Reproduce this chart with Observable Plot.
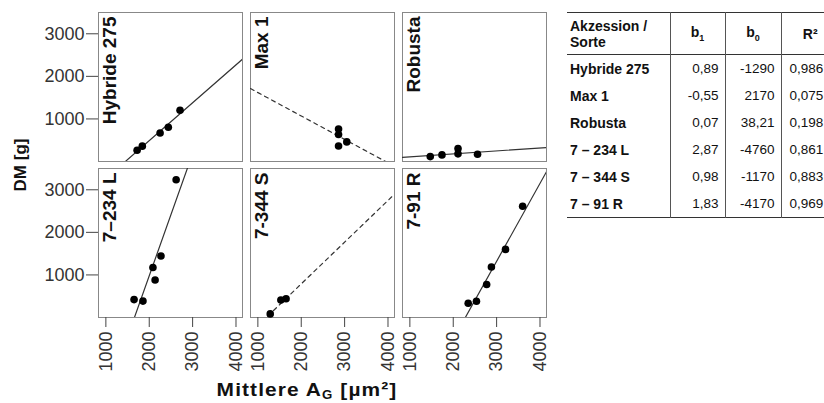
<!DOCTYPE html>
<html>
<head>
<meta charset="utf-8">
<script src="https://cdn.jsdelivr.net/npm/d3@7"></script>
<script src="https://cdn.jsdelivr.net/npm/@observablehq/plot@0.6"></script>
<style>
  html, body { margin: 0; padding: 0; background: #fff; }
  body { width: 824px; height: 403px; position: relative; overflow: hidden; font-family: "Liberation Sans", Arial, sans-serif; }
  #chart { position: absolute; left: 0; top: 0; }
  #ytitle { position: absolute; left: 21px; top: 165px; transform: translate(-50%, -50%) rotate(-90deg); font-weight: bold; font-size: 17px; white-space: nowrap; color: #111; }
  #xtitle { position: absolute; left: 307px; top: 380px; line-height: 1; transform: translateX(-50%) scaleX(1.1); font-weight: bold; font-size: 19px; white-space: nowrap; color: #111; letter-spacing: 1px; }
  #xtitle sub { font-size: 12px; vertical-align: baseline; position: relative; top: 3px; }
  #tab { position: absolute; left: 567px; top: 12px; border-collapse: collapse; table-layout: fixed; width: 272px; font-size: 13.5px; color: #111; }
  #tab td, #tab th { border-left: 1px solid #555; padding: 0 6px; height: 27px; overflow: visible; white-space: nowrap; }
  #tab td:first-child, #tab th:first-child { border-left: none; padding-left: 3px; }
  #tab thead tr { border-top: 1.5px solid #333; border-bottom: 1.5px solid #333; }
  #tab thead th { height: 41px; font-weight: bold; text-align: center; font-size: 14px; }
  #tab thead th:first-child { text-align: left; line-height: 16px; }
  #tab tbody tr:last-child { border-bottom: 1.5px solid #333; }
  #tab tbody td { text-align: right; }
  #tab tbody td:first-child { text-align: left; font-weight: bold; font-size: 14px; }
  #tab tbody td:last-child { text-align: left; padding-left: 8px; }
  #tab sub { font-size: 9px; }
</style>
</head>
<body>
<div id="chart"></div>
<div id="ytitle">DM [g]</div>
<div id="xtitle">Mittlere A<sub>G</sub> [µm²]</div>
<table id="tab">
  <colgroup><col style="width:103px"><col style="width:55px"><col style="width:56px"><col style="width:58px"></colgroup>
  <thead></thead><tbody></tbody>
</table>
<script>
// ---- data ----
const sorten = ["Hybride 275", "Max 1", "Robusta", "7–234 L", "7-344 S", "7-91 R"];
const tableNames = ["Hybride 275", "Max 1", "Robusta", "7 – 234 L", "7 – 344 S", "7 – 91 R"];
const b1 = [0.89, -0.55, 0.07, 2.87, 0.98, 1.83];
const b0 = [-1290, 2170, 38.21, -4760, -1170, -4170];
const r2 = [0.986, 0.075, 0.198, 0.861, 0.883, 0.969];
const significant = [true, false, true, true, false, true];

const xHyb = [1720, 1840, 2250, 2440, 2710];
const yHyb = [265, 360, 670, 805, 1205];
const xMax = [2860, 2860, 2860, 3050];
const yMax = [765, 635, 365, 460];
const xRob = [1470, 1740, 2110, 2110, 2560];
const yRob = [115, 155, 305, 180, 170];
const x234 = [1650, 1855, 2085, 2135, 2270, 2620];
const y234 = [420, 385, 1175, 880, 1445, 3235];
const x344 = [1285, 1530, 1650];
const y344 = [85, 410, 440];
const x91 = [2345, 2535, 2770, 2880, 3205, 3600];
const y91 = [335, 380, 775, 1185, 1600, 2615];

const xTicks = [1000, 2000, 3000, 4000];
const yTicks = [1000, 2000, 3000];
const xDomain = [830, 4150];
const yDomain = [0, 3500];

// ---- build tables ----
const xs = [xHyb, xMax, xRob, x234, x344, x91];
const ys = [yHyb, yMax, yRob, y234, y344, y91];
const points = [];
sorten.forEach((s, i) => xs[i].forEach((x, j) => points.push({sorte: s, col: i % 3, row: Math.floor(i / 3), x, y: ys[i][j]})));
const panels = sorten.map((s, i) => ({sorte: s, col: i % 3, row: Math.floor(i / 3)}));
const lines = [];
sorten.forEach((s, i) => xDomain.forEach(x => lines.push({sorte: s, col: i % 3, row: Math.floor(i / 3), sig: significant[i], x, y: b1[i] * x + b0[i]})));

const chart = Plot.plot({
  width: 560,
  height: 403,
  marginLeft: 97,
  marginRight: 13,
  marginTop: 12,
  marginBottom: 86,
  style: {fontFamily: "'Liberation Sans', Arial, sans-serif", fontSize: "18px", color: "#333", background: "#fff"},
  fx: {axis: null, paddingInner: 0.05, paddingOuter: 0},
  fy: {axis: null, paddingInner: 0.045, paddingOuter: 0},
  x: {domain: xDomain},
  y: {domain: yDomain},
  marks: [
    Plot.frame({stroke: "#888"}),
    Plot.axisY({ticks: yTicks, tickFormat: d => String(d), tickSize: 12, tickPadding: 2, label: null, stroke: "#444", fill: "#333"}),
    Plot.axisX({ticks: xTicks, tickFormat: d => String(d), tickSize: 10, tickPadding: 4, tickRotate: -90, label: null, stroke: "#444", fill: "#333"}),
    Plot.line(lines.filter(d => d.sig), {x: "x", y: "y", z: "sorte", fx: "col", fy: "row", stroke: "#333", strokeWidth: 1.2, clip: true}),
    Plot.line(lines.filter(d => !d.sig), {x: "x", y: "y", z: "sorte", fx: "col", fy: "row", stroke: "#333", strokeWidth: 1.2, strokeDasharray: "4,4", clip: true}),
    Plot.dot(points, {x: "x", y: "y", fx: "col", fy: "row", r: 3.8, fill: "#000", stroke: "none"}),
    Plot.text(panels, {fx: "col", fy: "row", text: "sorte", frameAnchor: "top-left", rotate: -90, textAnchor: "end", lineAnchor: "top", dx: 4, dy: 4, fontWeight: "bold", fontSize: 19, fill: "#111"})
  ]
});
document.getElementById("chart").appendChild(chart);

// ---- table ----
const fmt = (v, d) => v.toFixed(d).replace(".", ",");
const thead = document.querySelector("#tab thead");
thead.innerHTML = `<tr><th>Akzession /<br>Sorte</th><th>b<sub>1</sub></th><th>b<sub>0</sub></th><th>R²</th></tr>`;
const tbody = document.querySelector("#tab tbody");
tableNames.forEach((n, i) => {
  const b0s = Number.isInteger(b0[i]) ? String(b0[i]) : fmt(b0[i], 2);
  const tr = document.createElement("tr");
  tr.innerHTML = `<td>${n}</td><td>${fmt(b1[i], 2)}</td><td>${b0s}</td><td>${fmt(r2[i], 3)}</td>`;
  tbody.appendChild(tr);
});
</script>
</body>
</html>
